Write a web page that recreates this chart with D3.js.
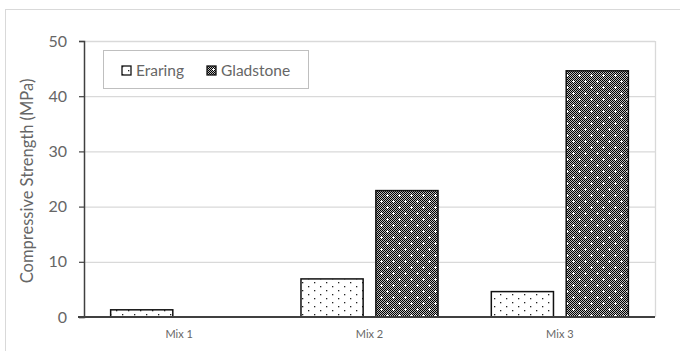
<!DOCTYPE html>
<html><head><meta charset="utf-8">
<script src="https://cdn.jsdelivr.net/npm/d3@7"></script>
<style>body{margin:0;background:#fff}svg{display:block}text{font-family:Lato,"Open Sans",sans-serif}</style>
</head><body><svg id="c" width="680" height="351"></svg>
<script>
const categories = ["Mix 1", "Mix 2", "Mix 3"];
const series = ["Eraring", "Gladstone"];
const eraring = [1.3, 6.9, 4.6];
const gladstone = [0, 22.9, 44.6];
const yTicks = [0, 10, 20, 30, 40, 50];
const yTitle = "Compressive Strength (MPa)";

const values = [eraring, gladstone];
const svg = d3.select("#c");
const L = 84, R = 655, T = 41, B = 317;

const defs = svg.append("defs");
const p1 = defs.append("pattern").attr("id","pE").attr("patternUnits","userSpaceOnUse").attr("width",12).attr("height",8);
p1.append("rect").attr("width",12).attr("height",8).attr("fill","#fff");
p1.append("rect").attr("x",2).attr("y",2).attr("width",1.3).attr("height",1.3).attr("fill","#222");
p1.append("rect").attr("x",8).attr("y",6).attr("width",1.3).attr("height",1.3).attr("fill","#222");
const p2 = defs.append("pattern").attr("id","pG").attr("patternUnits","userSpaceOnUse").attr("width",12).attr("height",12);
p2.append("rect").attr("width",12).attr("height",12).attr("fill","#bbb");
for (let i=0;i<12;i++) for (let j=0;j<12;j++) if ((i+j)%2===0)
  p2.append("rect").attr("x",i).attr("y",j).attr("width",1).attr("height",1).attr("fill","#000");
[[3,3],[9,9]].forEach(([cx,cy])=>{
  p2.append("rect").attr("x",cx-1).attr("y",cy).attr("width",3).attr("height",1).attr("fill","#fff");
  p2.append("rect").attr("x",cx).attr("y",cy-1).attr("width",1).attr("height",3).attr("fill","#fff");
});
const fills = ["url(#pE)","url(#pG)"];

svg.append("rect").attr("x",5.5).attr("y",9.5).attr("width",700).attr("height",400)
  .attr("fill","none").attr("stroke","#d9d9d9");

const y = d3.scaleLinear().domain([0,50]).range([B,T]);
const x0 = d3.scaleBand().domain(categories).range([L,R]).paddingInner(0.28).paddingOuter(0.14);
const x1 = d3.scaleBand().domain(series).range([0,x0.bandwidth()]).paddingInner(0.17);

svg.append("g").selectAll("line").data(yTicks.filter(d=>d>0)).join("line")
  .attr("x1",L).attr("x2",R).attr("y1",d=>y(d)+0.5).attr("y2",d=>y(d)+0.5)
  .attr("stroke","#d9d9d9").attr("stroke-width",1.3);
svg.append("line").attr("x1",R+0.5).attr("x2",R+0.5).attr("y1",T).attr("y2",B)
  .attr("stroke","#d9d9d9").attr("stroke-width",1.3);

categories.forEach((c,ci)=>{
  series.forEach((s,si)=>{
    const v = values[si][ci];
    if (v <= 0) return;
    svg.append("rect")
      .attr("x", x0(c)+x1(s)).attr("y", y(v))
      .attr("width", x1.bandwidth()).attr("height", y(0)-y(v))
      .attr("fill", fills[si]).attr("stroke","#111").attr("stroke-width",1.5);
  });
});

const ya = svg.append("g").attr("transform",`translate(${L},0)`)
  .call(d3.axisLeft(y).tickValues(yTicks).tickSize(5).tickPadding(12));
ya.select(".domain").attr("stroke","#404040").attr("stroke-width",1.5);
ya.selectAll(".tick line").attr("stroke","#404040").attr("stroke-width",1.2);
ya.selectAll(".tick text").attr("fill","#666").style("font-size","16px");

const xa = svg.append("g").attr("transform",`translate(0,${B})`)
  .call(d3.axisBottom(x0).tickSize(0).tickPadding(13));
xa.select(".domain").remove();
svg.append("line").attr("x1",L-6).attr("x2",R).attr("y1",B).attr("y2",B)
  .attr("stroke","#404040").attr("stroke-width",1.8);
xa.selectAll(".tick text").attr("fill","#666").style("font-size","11px");

svg.append("text").attr("transform",`translate(33,${(T+B)/2+2}) rotate(-90)`)
  .attr("text-anchor","middle").attr("fill","#666").style("font-size","16.5px").text(yTitle);

const lg = svg.append("g");
lg.append("rect").attr("x",103.5).attr("y",50.5).attr("width",205).attr("height",38)
  .attr("fill","#fff").attr("stroke","#bfbfbf").attr("stroke-width",1);
const legX = [122, 207];
series.forEach((s,i)=>{
  lg.append("rect").attr("x",legX[i]).attr("y",66).attr("width",9).attr("height",9)
    .attr("fill",fills[i]).attr("stroke","#111").attr("stroke-width",1.3);
  lg.append("text").attr("x",legX[i]+14).attr("y",76).attr("fill","#666")
    .style("font-size","15.5px").text(s);
});
</script></body></html>
